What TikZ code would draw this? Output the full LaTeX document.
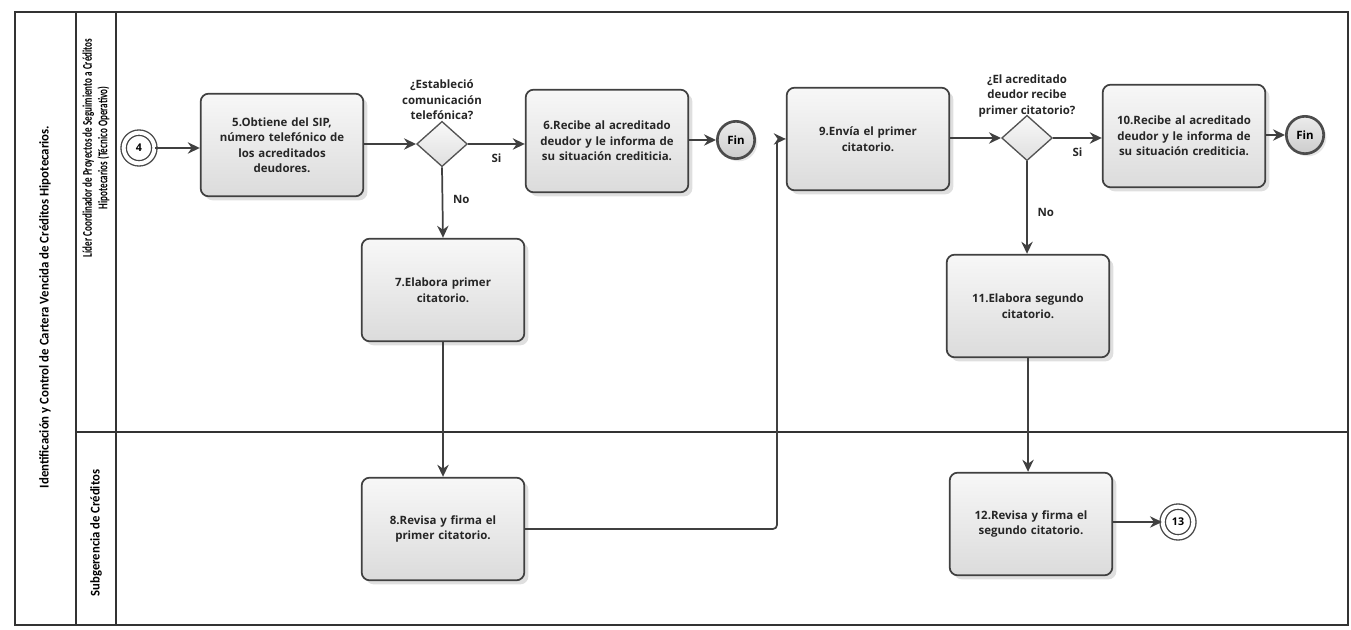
\documentclass[tikz,border=0pt]{standalone}
\usepackage{fontspec}
\usepackage{graphicx}
\setmainfont{Open Sans}
\newfontfamily\lanefont{Carlito}
\usetikzlibrary{shapes.geometric,arrows.meta,shadows}
\tikzset{
  frameline/.style={draw=black!80, line width=1pt},
  task/.style={draw=black!75, line width=1.3pt, rounded corners=6pt,
    top color=gray!6, bottom color=gray!28,
    drop shadow={opacity=0.25, shadow xshift=3pt, shadow yshift=-3pt},
    minimum width=122pt, minimum height=77pt, text width=112pt, align=center,
    font=\bfseries\fontsize{8.6}{11.6}\selectfont, text=black!85},
  gw/.style={diamond, draw=gray!65!black, line width=1pt, top color=gray!5, bottom color=gray!25,
    minimum width=38pt, minimum height=34pt, inner sep=0pt, aspect=1.15},
  fin/.style={circle, draw=black!70, line width=2pt, top color=gray!15, bottom color=gray!40,
    minimum size=28pt, inner sep=0pt, font=\bfseries\fontsize{8.6}{10}\selectfont,
    drop shadow={opacity=0.2, shadow xshift=2pt, shadow yshift=-2pt}},
  linkev/.style={circle, draw=gray!55!black, line width=1pt, double=white, double distance=3pt,
    fill=white, minimum size=23pt, inner sep=0pt, font=\bfseries\fontsize{8}{10}\selectfont,
    drop shadow={opacity=0.2, shadow xshift=2pt, shadow yshift=-2pt}},
  flow/.style={draw=black!75, line width=1.3pt, -{Stealth[length=9pt,width=8.5pt]}},
  qlabel/.style={align=center, font=\bfseries\fontsize{8.6}{11.6}\selectfont, text=black!85},
  elabel/.style={font=\bfseries\fontsize{8.6}{10}\selectfont, text=black!85},
  lanelabel/.style={rotate=90, align=center, font=\lanefont\bfseries\fontsize{10}{11.5}\selectfont}
}
\begin{document}
\begin{tikzpicture}[x=0.75pt,y=-0.75pt]
\useasboundingbox (0,0) rectangle (1351,630);
% frame
\draw[frameline] (15,12) rectangle (1348,625);
\draw[frameline] (76,12) -- (76,625);
\draw[frameline] (116,12) -- (116,625);
\draw[frameline] (76,432) -- (1348,432);
% lane titles
\node[lanelabel] (title) at (45,307) {\scalebox{0.96}[1]{Identificación y Control de Cartera Vencida de Créditos Hipotecarios.}};
\node[lanelabel] (lane1) at (96,148) {\scalebox{0.68}[1]{Líder Coordinador de Proyectos de Seguimiento a Créditos}\\\scalebox{0.68}[1]{Hipotecarios (Técnico Operativo)}};
\node[lanelabel] (lane2) at (96,533) {\scalebox{0.95}[1]{Subgerencia de Créditos}};
% nodes
\node[linkev] (s4) at (139,148) {4};
\node[task] (t5) at (282,145) {5.Obtiene del SIP,\\número telefónico de\\los acreditados\\deudores.};
\node[gw] (g1) at (442,144) {};
\node[qlabel] (q1) at (442,100) {¿Estableció\\comunicación\\telefónica?};
\node[task] (t6) at (607,141) {6.Recibe al acreditado\\deudor y le informa de\\su situación crediticia.};
\node[fin] (f1) at (736,140) {Fin};
\node[task] (t7) at (443,290) {7.Elabora primer\\citatorio.};
\node[task] (t8) at (443,529) {8.Revisa y firma el\\primer citatorio.};
\node[task] (t9) at (868,139) {9.Envía el primer\\citatorio.};
\node[gw] (g2) at (1027,138) {};
\node[qlabel] (q2) at (1027,96) {¿El acreditado\\deudor recibe\\primer citatorio?};
\node[task] (t10) at (1184,136) {10.Recibe al acreditado\\deudor y le informa de\\su situación crediticia.};
\node[fin] (f2) at (1305,135) {Fin};
\node[task] (t11) at (1028,306) {11.Elabora segundo\\citatorio.};
\node[task] (t12) at (1031,524) {12.Revisa y firma el\\segundo citatorio.};
\node[linkev] (e13) at (1178,522) {13};
% connectors
\draw[flow] (s4) -- (t5.west |- s4);
\draw[flow] (t5.east |- g1) -- (g1.west);
\draw[flow] (g1.east) -- (t6.west |- g1) node[elabel, pos=0.5, below=3pt] (si1) {Si};
\draw[flow] (t6.east |- f1) -- (f1.west);
\draw[flow] (g1.south) -- (t7.north) node[elabel, pos=0.45, right=4pt] (no1) {No};
\draw[flow] (t7.south) -- (t8.north);
\coordinate (bend) at (777,300);
\draw[flow, rounded corners=3pt] (t8.east) -| (bend) |- (t9.west);
\draw[flow] (t9.east |- g2) -- (g2.west);
\draw[flow] (g2.east) -- (t10.west |- g2) node[elabel, pos=0.5, below=3pt] (si2) {Si};
\draw[flow] (t10.east |- f2) -- (f2.west);
\draw[flow] (g2.south) -- (t11.north -| g2) node[elabel, pos=0.55, right=4pt] (no2) {No};
\draw[flow] (t11.south) -- (t12.north -| t11);
\draw[flow] (t12.east |- e13) -- (e13.west);
\end{tikzpicture}
\end{document}
